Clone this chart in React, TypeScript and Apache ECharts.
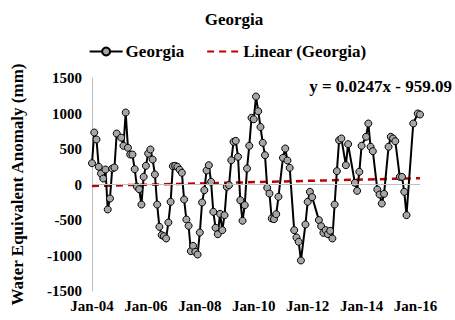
import React, { useEffect, useRef } from "react";
import * as echarts from "echarts";

// months since Jan 2004
const months = [
  0, 1, 2, 3, 4, 5, 6, 7, 8, 9, 10, 11, 13, 14, 15, 16, 17, 18, 19, 20, 21, 22, 23, 24, 25, 26, 27, 28, 29,
  30, 31, 32, 33, 34, 35, 36, 37, 38, 39, 40, 41, 42, 43, 44, 45, 46, 47, 48, 49, 50, 51, 52, 53, 54, 55,
  56, 57, 58, 59, 60, 61, 62, 63, 64, 65, 66, 67, 68, 69, 70, 71, 72, 73, 74, 75, 76, 77, 78, 79, 80, 81,
  82, 83, 85, 86, 87, 88, 90, 91, 92, 93, 95, 96, 97, 98, 101, 102, 103, 104, 105, 106, 107, 108, 109, 110,
  111, 113, 114, 117, 118, 119, 120, 122, 123, 124, 125, 127, 128, 129, 130, 132, 133, 134, 135, 137, 138,
  139, 140, 143, 145, 146,
];
const values = [
  300, 732, 634, 249, 155, 84, 211, -352, -197, 225, 239, 718, 660, 545, 1014, 517, 422, 422, 216, -30, -66,
  -282, 108, 263, 436, 493, 352, 141, -282, -596, -713, -728, -760, -535, -244, 258, 263, 249, 207, 165,
  -211, -493, -582, -939, -864, -948, -986, -676, -253, -80, 197, 272, 38, -385, -610, -700, -413, -643,
  -432, -33, -9, 342, 601, 615, 390, -221, -511, -291, 225, 545, 939, 919, 1239, 1032, 810, 587, 413, -47,
  -127, -479, -488, -418, -173, 376, 507, 338, 235, -643, -746, -807, -1070, -563, -244, -103, -178, -502,
  -587, -681, -643, -700, -652, -760, -282, 188, 624, 648, 272, 568, 24, -89, 179, 545, 672, 859, 531, 469,
  -70, -141, -268, -131, 531, 672, 648, 610, 108, 108, -103, -432, 859, 1000, 986,
];
const trendSlope = 0.0247;
const trendIntercept = -959.09;
const trendEquation = "y = 0.0247x - 959.09";
const xMinMonth = 0;
const xMaxMonth = 146;
const xTickMonths = [0, 24, 48, 72, 96, 120, 144];
const yTicks = [-1500, -1000, -500, 0, 500, 1000, 1500];

const excelSerial = (m: number) => {
  const y = 2004 + Math.floor(m / 12);
  const mo = m % 12;
  return (Date.UTC(y, mo, 1) - Date.UTC(1899, 11, 30)) / 86400000;
};
const trendAt = (m: number) => trendSlope * excelSerial(m) + trendIntercept;
const monthLabel = (m: number) => {
  const y = 2004 + Math.floor(m / 12);
  const names = ["Jan", "Feb", "Mar", "Apr", "May", "Jun", "Jul", "Aug", "Sep", "Oct", "Nov", "Dec"];
  return names[m % 12] + "-" + String(y % 100).padStart(2, "0");
};

const FONT = "'Liberation Serif', 'Times New Roman', serif";

export default function App() {
  const ref = useRef<HTMLDivElement>(null);
  useEffect(() => {
    document.body.style.margin = "0";
    if (!ref.current) return;
    const chart = echarts.init(ref.current, undefined, { renderer: "svg" });
    const lineData = months.map((m, i) => [m, values[i]]);
    const trendData = [xMinMonth, xMaxMonth].map((m) => [m, trendAt(m)]);
    chart.setOption({
      animation: false,
      backgroundColor: "#ffffff",
      textStyle: { fontFamily: FONT },
      title: {
        text: "Georgia",
        left: 229,
        textAlign: "center",
        top: 6,
        textStyle: { fontFamily: FONT, fontWeight: "bold", fontSize: 17, color: "#000" },
      },
      legend: {
        top: 38,
        left: "center",
        itemGap: 22,
        itemWidth: 33,
        itemHeight: 10,
        textStyle: { fontFamily: FONT, fontWeight: "bold", fontSize: 17, color: "#000", padding: [0, 0, 0, -2] },
        data: [
          { name: "Georgia" },
          { name: "Linear (Georgia)", itemStyle: { opacity: 0 } },
        ],
      },
      grid: { left: 92, right: 35, top: 78, bottom: 29, containLabel: false },
      xAxis: {
        type: "value",
        min: xMinMonth,
        max: xMaxMonth,
        interval: 24,
        splitLine: { show: false },
        axisLine: { show: false, onZero: false },
        axisTick: { show: false },
        axisLabel: {
          showMaxLabel: false,
          margin: 7,
          fontFamily: FONT,
          fontWeight: "bold",
          fontSize: 15,
          color: "#000",
          formatter: (v: number) => (xTickMonths.includes(v) ? monthLabel(v) : ""),
        },
      },
      yAxis: {
        type: "value",
        min: yTicks[0],
        max: yTicks[yTicks.length - 1],
        interval: 500,
        name: "Water Equivalent Anomaly (mm)",
        nameLocation: "middle",
        nameGap: 66,
        nameTextStyle: { fontFamily: FONT, fontWeight: "bold", fontSize: 17, color: "#000" },
        splitLine: { show: false },
        axisLine: { show: true, lineStyle: { color: "#bfbfbf", width: 1 } },
        axisTick: { show: false },
        axisLabel: {
          margin: 10,
          fontFamily: FONT,
          fontWeight: "bold",
          fontSize: 15,
          color: "#000",
          formatter: (v: number) => String(v),
        },
      },
      series: [
        {
          name: "Linear (Georgia)",
          type: "line",
          data: trendData,
          showSymbol: false,
          symbol: "none",
          z: 3,
          color: "#c00000",
          lineStyle: { color: "#c00000", width: 2.5, type: [7, 5] },
          markLine: {
            silent: true,
            symbol: "none",
            label: { show: false },
            lineStyle: { color: "#bfbfbf", width: 1, type: "solid" },
            data: [{ yAxis: 0 }],
          },
        },
        {
          name: "Georgia",
          type: "line",
          data: lineData,
          z: 4,
          symbol: "circle",
          symbolSize: 7,
          color: "#a6a6a6",
          itemStyle: { color: "#a6a6a6", borderColor: "#000", borderWidth: 1 },
          lineStyle: { color: "#000", width: 2 },
        },
      ],
      graphic: [
        {
          type: "text",
          right: 3,
          top: 78,
          style: {
            text: trendEquation,
            font: "bold 17px " + FONT,
            fill: "#000",
          },
        },
      ],
    });
    return () => chart.dispose();
  }, []);
  return <div ref={ref} style={{ width: 455, height: 320 }} />;
}
